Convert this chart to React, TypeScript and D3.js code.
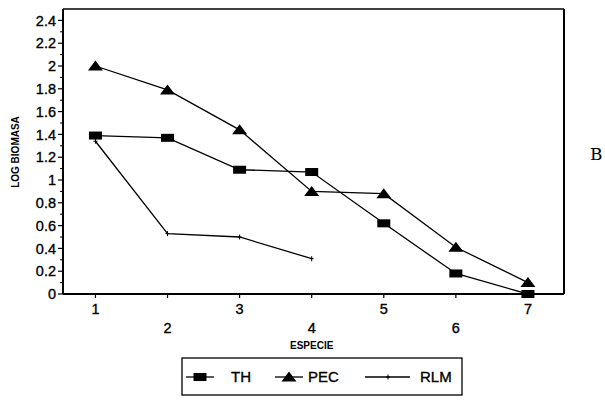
import React from "react";
import * as d3 from "d3";

const especies = [1, 2, 3, 4, 5, 6, 7];
const thValues = [1.39, 1.37, 1.09, 1.07, 0.62, 0.18, 0.0];
const pecValues = [2.0, 1.79, 1.44, 0.9, 0.88, 0.41, 0.1];
const rlmValues = [1.34, 0.53, 0.5, 0.31];
const yTickValues = [0, 0.2, 0.4, 0.6, 0.8, 1, 1.2, 1.4, 1.6, 1.8, 2, 2.2, 2.4];
const yTickLabels = ["0", "0.2", "0.4", "0.6", "0.8", "1", "1.2", "1.4", "1.6", "1.8", "2", "2.2", "2.4"];
const seriesNames = ["TH", "PEC", "RLM"];

const W = 605;
const H = 411;
const left = 63, right = 564, top = 9, bottom = 294;

export default function App() {
  const x = d3.scaleLinear().domain([0.55, 7.5]).range([left, right]);
  const y = d3.scaleLinear().domain([0, 2.5]).range([bottom, top]);
  const line = d3
    .line<number>()
    .x((_, i) => x(especies[i]))
    .y((d) => y(d));
  const font = "Arial, 'Liberation Sans', Helvetica, sans-serif";
  const minor = d3.range(0.1, 2.5, 0.2);

  const square = (cx: number, cy: number, k: string) => (
    <rect key={k} x={cx - 6.5} y={cy - 4} width={13} height={8} fill="#000" />
  );
  const tri = (cx: number, cy: number, k: string) => (
    <path key={k} d={`M${cx - 7.5},${cy + 4.5}L${cx + 7.5},${cy + 4.5}L${cx},${cy - 5.5}Z`} fill="#000" />
  );
  const tick = (cx: number, cy: number, k: string) => (
    <path key={k} d={`M${cx},${cy - 2.5}V${cy + 2.5}M${cx - 2},${cy}H${cx + 2}`} stroke="#000" strokeWidth={1} />
  );

  const legendY = 377;
  const txt = { fontFamily: font, fill: "#000", stroke: "#000", strokeWidth: 0.35 };
  return (
    <svg width={W} height={H} style={{ display: "block", position: "absolute", left: 0, top: 0, background: "#fff" }}>
      <rect x={0} y={0} width={W} height={H} fill="#fff" />
      {/* frame */}
      <line x1={left} y1={top} x2={right} y2={top} stroke="#000" strokeWidth={1.5} />
      <line x1={right} y1={top} x2={right} y2={bottom} stroke="#000" strokeWidth={2} />
      <line x1={left} y1={top} x2={left} y2={bottom} stroke="#000" strokeWidth={2} />
      <line x1={left} y1={bottom} x2={right} y2={bottom} stroke="#000" strokeWidth={2} />
      {/* y ticks */}
      {yTickValues.map((v, i) => (
        <g key={"yt" + i}>
          <line x1={left - 5} x2={left} y1={y(v)} y2={y(v)} stroke="#000" strokeWidth={1.2} />
          <text x={left - 7} y={y(v)} dy="0.36em" textAnchor="end" fontSize={14.5} {...txt}>
            {yTickLabels[i]}
          </text>
        </g>
      ))}
      {minor.map((v, i) => (
        <line key={"ym" + i} x1={left - 3} x2={left} y1={y(v)} y2={y(v)} stroke="#000" strokeWidth={1} />
      ))}
      {/* x ticks */}
      {especies.map((e, i) => (
        <g key={"xt" + i}>
          <line x1={x(e)} x2={x(e)} y1={bottom} y2={bottom + 4} stroke="#000" strokeWidth={1.2} />
          <text x={x(e)} y={i % 2 === 0 ? 309 : 328} dy="0.36em" textAnchor="middle" fontSize={14.5} {...txt}>
            {e}
          </text>
        </g>
      ))}
      <text x={x(4)} y={345} dy="0.36em" textAnchor="middle" fontFamily={font} fontSize={10} fontWeight="bold" fill="#000">
        ESPECIE
      </text>
      <text transform={`translate(15,${152}) rotate(-90)`} dy="0.36em" textAnchor="middle" fontFamily={font} fontSize={10} fontWeight="bold" fill="#000">
        LOG BIOMASA
      </text>
      {/* series */}
      <path d={line(thValues) || ""} fill="none" stroke="#000" strokeWidth={1.3} />
      <path d={line(pecValues) || ""} fill="none" stroke="#000" strokeWidth={1.3} />
      <path d={line(rlmValues) || ""} fill="none" stroke="#000" strokeWidth={1.3} />
      {thValues.map((v, i) => square(x(especies[i]), y(v), "s" + i))}
      {pecValues.map((v, i) => tri(x(especies[i]), y(v), "t" + i))}
      {rlmValues.map((v, i) => tick(x(especies[i]), y(v), "r" + i))}
      {/* B */}
      <text x={590} y={160} fontFamily="'DejaVu Serif', 'Liberation Serif', serif" fontSize={17} fill="#000">B</text>
      {/* legend */}
      <rect x={182} y={358} width={280} height={37} fill="none" stroke="#000" strokeWidth={1.3} />
      <g>
        <line x1={186} x2={214} y1={legendY} y2={legendY} stroke="#000" strokeWidth={1.3} />
        {square(200, legendY, "ls")}
        <text x={231} y={legendY} dy="0.36em" fontSize={15} {...txt}>{seriesNames[0]}</text>
        <line x1={275} x2={303} y1={legendY} y2={legendY} stroke="#000" strokeWidth={1.3} />
        {tri(289, legendY, "lt")}
        <text x={308} y={legendY} dy="0.36em" fontSize={15} {...txt}>{seriesNames[1]}</text>
        <line x1={365} x2={410} y1={legendY} y2={legendY} stroke="#000" strokeWidth={1.3} />
        {tick(388, legendY, "lr")}
        <text x={420} y={legendY} dy="0.36em" fontSize={15} {...txt}>{seriesNames[2]}</text>
      </g>
    </svg>
  );
}
